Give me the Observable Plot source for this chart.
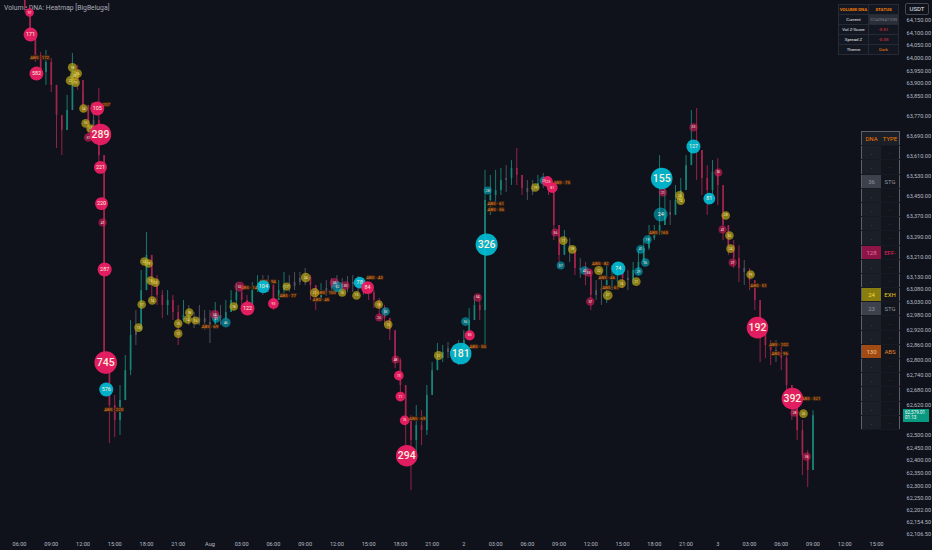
<!DOCTYPE html>
<html>
<head>
<meta charset="utf-8">
<script src="https://cdn.jsdelivr.net/npm/d3@7"></script>
<script src="https://cdn.jsdelivr.net/npm/@observablehq/plot@0.6"></script>
<style>
  html, body { margin: 0; padding: 0; background: #0f121a; }
  body { position: relative; width: 932px; height: 550px; overflow: hidden; font-family: Roboto, "Noto Sans", sans-serif; }
  #title { position: absolute; left: 4px; top: 4px; font-size: 6.8px; color: #a9adb8; white-space: nowrap; }
  #chart { position: absolute; left: 0; top: 0; }
  #unit { position: absolute; box-sizing: border-box; left: 905px; top: 3px; width: 24px; height: 12px; border: 1px solid #434651; border-radius: 2px; background: #0f121a; color: #e6e8ee; font-size: 6px; line-height: 10px; text-align: center; }
  #tag { position: absolute; box-sizing: border-box; left: 903px; width: 26px; height: 13px; background: #089981; color: #fff; font-size: 4.6px; line-height: 5.4px; padding: 1px 0 0 2px; }
  table { position: absolute; border-collapse: collapse; table-layout: fixed; box-sizing: border-box; }
  td { padding: 0; text-align: center; white-space: nowrap; overflow: hidden; }
  #status { left: 838px; top: 4px; width: 61px; height: 49px; border: 1px solid #5d606b; background: #131722; font-size: 4.4px; }
  #status td { border: 1px solid #262a35; color: #e6e8ee; height: 9px; }
  #dna { left: 861px; top: 131px; width: 39px; height: 276px; border: 1px solid #5d606b; font-size: 6px; }
  #dna td { height: 13.2px; border-bottom: 1px solid #171a22; }
</style>
</head>
<body>
<div id="title">Volume DNA: Heatmap [BigBeluga]</div>
<div id="chart"></div>
<div id="unit">USDT</div>
<table id="status"></table>
<table id="dna"></table>
<div id="tag"></div>
<script>
// 30 minute bars, first one at Jul 31 06:30
const firstOpen = 64230;
const closes = [64198,64110,64011,63943,63983,63892,63772,63713,63792,63951,
  63911,63812,63733,63752,63613,62818,62619,62560,62639,62758,
  62898,62917,63076,63216,63116,63057,63017,63037,62989,62957,
  62977,62965,62949,62965,62949,62937,62977,62965,62989,63037,
  63068,63037,63017,63076,63096,63084,63096,63037,63076,63096,
  63092,63108,63124,63128,63096,63045,63068,63084,63096,63104,
  63088,63100,63108,63104,63088,63068,63037,63005,62965,62917,
  62798,62699,62560,62480,62540,62520,62659,62758,62806,62830,
  62846,62830,62838,62878,62957,63017,62997,63434,63454,63474,
  63514,63522,63562,63534,63482,63466,63482,63502,63514,63494,
  63335,63216,63255,63236,63164,63156,63136,63057,63076,63084,
  63116,63136,63156,63124,63116,63156,63188,63243,63283,63307,
  63335,63387,63375,63434,63474,63573,63673,63633,63522,63474,
  63546,63494,63335,63255,63204,63164,63148,63116,63037,62917,
  62858,62838,62830,62806,62699,62619,62520,62420,62361,62579.01];
const highs = [64269,64210,64090,64023,64031,63999,63852,63752,63852,64019,
  63971,63864,63792,63812,63880,63613,62738,62659,62699,62818,
  62957,62997,63156,63307,63216,63136,63076,63076,63057,63017,
  63037,63017,62989,63017,62997,62997,63029,63017,63037,63076,
  63104,63096,63057,63108,63136,63136,63136,63108,63116,63148,
  63136,63148,63148,63164,63136,63096,63104,63116,63124,63136,
  63124,63132,63136,63132,63124,63104,63076,63045,63017,62965,
  62917,62806,62699,62579,62619,62599,62699,62790,62866,62858,
  62870,62858,62878,62917,63005,63053,63057,63554,63534,63554,
  63562,63573,63593,63641,63534,63514,63514,63534,63542,63530,
  63494,63335,63315,63283,63236,63204,63188,63156,63116,63156,
  63176,63176,63188,63176,63156,63188,63236,63283,63335,63335,
  63613,63514,63434,63494,63522,63613,63792,63800,63633,63573,
  63593,63601,63434,63315,63275,63255,63196,63164,63096,63017,
  62898,62878,62878,62858,62818,62699,62619,62560,62440,62599];
const lows = [64182,64070,63983,63919,63892,63864,63641,63613,63713,63872,
  63872,63784,63693,63713,63573,62778,62468,62492,62500,62639,
  62738,62858,62917,63096,63037,63017,62965,62977,62957,62858,
  62949,62937,62925,62937,62917,62866,62949,62937,62957,62989,
  63017,62997,62989,63037,63068,63057,63068,62997,63045,63057,
  63068,63076,63096,63096,63037,62997,63037,63053,63068,63068,
  63057,63068,63068,63068,63057,63037,63005,62977,62937,62878,
  62766,62639,62460,62281,62420,62460,62500,62671,62766,62790,
  62806,62790,62778,62838,62878,62965,62957,62850,63375,63414,
  63454,63466,63494,63494,63454,63434,63454,63474,63482,63454,
  63275,63164,63216,63188,63136,63124,63096,62997,63037,63017,
  63025,63076,63108,63084,63076,63096,63136,63188,63236,63275,
  63295,63335,63335,63395,63434,63514,63585,63514,63454,63375,
  63454,63414,63275,63216,63164,63108,63096,63076,62997,62790,
  62806,62778,62790,62758,62659,62560,62480,62341,62293,62361];

// volume DNA bubbles: bar position, price, value, type, volume z-score
const bubbleBar = [0.9,1.1,2.2,8.6,9.0,9.4,10.0,9.6,11.1,11.5,12.4,12.0,13.7,14.3,14.3,14.5,14.7,15.1,15.3,15.4,
  21.5,22.1,22.6,23.4,23.8,24.7,24.1,29.0,29.0,30.8,31.1,32.3,35.9,36.2,38.0,39.5,40.6,42.1,45.1,47.0,
  49.5,53.1,54.8,58.5,59.1,60.6,60.0,63.3,62.7,64.8,66.9,68.2,68.7,67.0,70.1,70.7,71.0,71.8,72.2,78.2,
  82.4,84.1,83.3,85.6,87.3,87.5,96.5,98.8,99.7,98.1,100.3,101.8,103.5,101.3,105.8,106.6,108.5,106.9,110.2,112.2,
  112.8,115.6,116.0,117.3,116.4,117.7,120.2,120.6,120.4,123.8,124.0,126.4,126.4,129.4,131.1,132.5,133.2,131.9,133.4,133.8,
  137.2,138.5,145.1,145.5,147.2,147.8];
const bubblePrice = [64182,64094,63939,63911,63963,63931,63939,63903,63800,63741,63721,63685,63800,63697,63566,63422,63347,63160,62790,62683,
  62929,63021,63192,63184,63116,63108,63037,62945,62905,62961,62989,62957,62981,62965,62949,63013,63092,63005,63092,63025,
  63092,63128,63068,63108,63092,63096,63068,63108,63057,63088,63021,62993,62941,62969,62802,62738,62655,62560,62420,62818,
  62826,62898,62953,63049,63259,63474,63486,63510,63486,63514,63307,63275,63240,63176,63156,63148,63156,63033,63057,63164,
  63104,63112,63152,63188,63240,63279,63379,63466,63522,63454,63434,63649,63725,63442,63546,63375,63295,63319,63243,63188,
  63140,62929,62647,62591,62587,62416];
const bubbleVal = [97,171,582,22,18,23,16,19,14,16,13,31,105,289,221,220,41,287,745,576,
  13,17,22,19,16,20,14,15,12,14,18,16,34,21,46,18,52,122,104,93,
  17,24,21,33,52,30,16,78,15,84,18,33,16,26,48,73,71,76,294,22,
  181,85,36,54,326,28,19,125,81,21,56,17,18,37,42,55,22,57,27,74,
  16,21,29,36,41,19,24,21,155,20,14,127,33,81,36,28,26,41,24,37,
  19,192,392,28,26,36];
const bubbleType = ["EFF-","EFF-","EFF-","EXH","EXH","EXH","EXH","EXH","EXH","EXH","EXH","EFF-","EFF-","EFF-","EFF-","EFF-","EFF-","EFF-","EFF-","EFF+",
  "EXH","EXH","EXH","EXH","EXH","EXH","EXH","EXH","EXH","EXH","EXH","EXH","EFF-","EFF+","EFF+","EXH","EFF-","EFF-","EFF+","EFF-",
  "EXH","EXH","EXH","EFF-","EFF+","EFF-","EXH","EFF+","EXH","EFF-","EXH","EFF+","EXH","EFF-","EFF-","EFF-","EFF-","EFF-","EFF-","EXH",
  "EFF+","EFF-","EFF+","EFF-","EFF+","EFF+","EXH","EFF-","EFF-","EFF+","EFF-","EXH","EXH","EFF+","EFF+","EFF-","EXH","EFF-","EXH","EFF+",
  "EXH","EXH","EFF+","EFF+","EFF+","EFF+","EFF+","EFF-","EFF+","EXH","EXH","EFF+","EFF-","EFF+","EFF-","EXH","EXH","EFF-","EXH","EFF-",
  "EXH","EFF-","EFF-","EFF-","EXH","EFF-"];
const bubbleZ = [1.6,2.6,2.6,1.7,1.7,1.7,1.6,1.6,1.6,1.6,1.5,1.6,2.6,4.0,2.4,2.4,1.5,2.6,4.2,2.6,
  1.6,1.6,1.6,1.6,1.6,1.6,1.6,1.6,1.6,1.6,1.6,1.5,1.7,1.6,1.8,1.6,1.9,2.6,2.4,2.0,
  1.5,1.8,1.7,1.7,2.0,1.6,1.5,2.2,1.6,2.4,1.6,1.6,1.6,1.5,1.5,1.8,1.8,1.8,4.0,1.7,
  4.0,1.9,1.6,1.6,4.1,1.5,1.6,2.0,2.0,1.5,1.5,1.6,1.6,1.5,1.6,1.6,1.7,1.6,1.8,2.6,
  1.6,1.6,1.6,1.6,1.6,1.6,2.6,1.5,4.0,1.7,1.6,2.6,1.5,2.2,1.5,1.6,1.6,1.5,1.6,1.5,
  1.6,4.0,4.0,1.5,1.6,1.5];

// absorption tags
const absBar = [2.8,14.3,16.8,35.0,42.6,45.9,49.7,57.0,56.0,66.1,74.2,85.6,89.0,89.0,101.5,108.8,110.0,110.7,119.8,138.7,142.5,142.7,148.6];
const absPrice = [64003,63816,62603,62933,63088,63112,63057,63068,63041,63128,62568,62854,63422,63399,63506,63184,63128,63088,63307,63096,62862,62826,62647];
const absVal = [172,207,220,69,143,94,77,150,46,43,69,55,61,56,75,82,46,61,165,51,102,96,321];

const priceTicks = [64150,64100,64050,64000,63950,63900,63850,63770,63690,63610,63530,63450,63370,63290,63210,63130,63080,63030,62980,62920,62860,62800,62740,62680,62620,62500,62450,62400,62350,62300,62250,62202,62154.5,62106.5];
const timeLabels = ["06:00","09:00","12:00","15:00","18:00","21:00","Aug","03:00","06:00","09:00","12:00","15:00","18:00","21:00","2","03:00","06:00","09:00","12:00","15:00","18:00","21:00","3","03:00","06:00","09:00","12:00","15:00"];

const statusHead = ["VOLUME DNA", "STATUS"];
const statusNames = ["Current", "Vol Z-Score", "Spread Z", "Theme"];
const statusValues = ["STAGNATION", "-0.51", "-0.35", "Dark"];

const dnaValues = [null,null,36,null,null,null,null,128,null,null,24,23,null,null,130,null,null,null,null,null];
const dnaTypes = ["","","STG","","","","","EFF-","","","EXH","STG","","","ABS","","","","",""];

const lastPrice = 62579.01;
const lastTimer = "01:13";

const hour = 3600 * 1000;
const t0 = Date.UTC(2024, 6, 31, 6, 30);
const barTime = i => new Date(t0 + i * hour / 2);
const xStart = Date.UTC(2024, 6, 31, 6, 0);
const tickDates = timeLabels.map((_, i) => new Date(xStart + i * 3 * hour));
const tickLabel = new Map(tickDates.map((d, i) => [+d, timeLabels[i]]));

const candles = closes.map((c, i) => ({t: barTime(i), o: i ? closes[i - 1] : firstOpen, c, h: highs[i], l: lows[i]}));
const candleColor = d => Math.abs(d.c - d.o) < 20 ? "#545866" : d.c > d.o ? "#188478" : "#a3244f";

const bubbles = bubbleBar.map((b, i) => ({t: barTime(b), p: bubblePrice[i], v: bubbleVal[i], type: bubbleType[i], z: bubbleZ[i]}));
const bubbleFill = d => {
  if (d.type === "EXH") return "rgba(190,168,24,0.7)";
  const strong = d.v >= 60;
  if (d.type === "EFF+") return strong ? "rgba(0,188,212,0.93)" : "rgba(0,188,212,0.55)";
  return strong ? "rgba(233,30,99,0.96)" : "rgba(233,30,99,0.55)";
};
const absTags = absBar.map((b, i) => ({t: barTime(b), p: absPrice[i], v: absVal[i]}));

function layer(filter, size) {
  return [
    Plot.dot(bubbles, {filter, x: "t", y: "p", r: "z", fill: bubbleFill, sort: {channel: "r"}, clip: true}),
    Plot.text(bubbles, {filter, x: "t", y: "p", text: d => String(d.v), fill: d => d.type === "EXH" ? "#f5ecb8" : "#fdeedd", fontSize: size, fontWeight: size > 8 ? 500 : 400, clip: true})
  ];
}

const chart = Plot.plot({
  width: 932,
  height: 550,
  marginTop: 0,
  marginLeft: 0,
  marginRight: 30,
  marginBottom: 10,
  style: {background: "transparent", color: "#b6bac4", fontFamily: "Roboto, sans-serif", fontSize: "5.6px"},
  x: {type: "utc", domain: [new Date(xStart), tickDates[tickDates.length - 1]], range: [19, 876], ticks: tickDates, tickFormat: d => tickLabel.get(+d), tickSize: 0, tickPadding: 2, label: null},
  y: {axis: "right", domain: [62106.5, 64150], range: [534, 20], ticks: priceTicks, tickFormat: d3.format(",.2f"), tickSize: 0, tickPadding: 4, label: null},
  r: {type: "linear", domain: [0, 4.2], range: [0, 11.3]},
  color: {type: "identity"},
  marks: [
    Plot.ruleX(candles, {x: "t", y1: "l", y2: "h", stroke: candleColor, strokeWidth: 0.9, clip: true}),
    Plot.ruleX(candles, {x: "t", y1: "o", y2: "c", stroke: candleColor, strokeWidth: 1.7, clip: true}),
    Plot.text(absTags, {x: "t", y: "p", text: d => "ABS · " + d.v, fill: "#e8842c", fontSize: 4.4, stroke: "#3b2310", strokeWidth: 2, paintOrder: "stroke", clip: true}),
    ...layer(d => d.z < 2.2, 3.3),
    ...layer(d => d.z >= 2.2 && d.z < 3.5, 5.4),
    ...layer(d => d.z >= 3.5, 10.5)
  ]
});
document.getElementById("chart").append(chart);

// last price tag, placed with the chart's own y scale
const tag = document.getElementById("tag");
tag.style.top = (chart.scale("y").apply(lastPrice) - 6.5) + "px";
tag.innerHTML = d3.format(",.2f")(lastPrice) + "<br>" + lastTimer;

// status table
const status = d3.select("#status");
const head = status.append("tr");
statusHead.forEach(h => head.append("td").text(h).style("color", "#f57c00").style("font-weight", "700"));
statusNames.forEach((n, i) => {
  const row = status.append("tr");
  row.append("td").text(n);
  const v = row.append("td").text(statusValues[i]);
  if (i === 0) v.style("background", "#2a2e39").style("color", "#787b86");
  else if (i === 3) v.style("color", "#f57c00");
  else v.style("color", "#f23645");
});

// DNA column table
const typeStyle = {
  "STG": {bg: "#3d414c", fg: "#8f939e", tfg: "#8f939e"},
  "EFF-": {bg: "#8c1446", fg: "#e07399", tfg: "#e91e63"},
  "EXH": {bg: "#8a7d10", fg: "#f3dc3a", tfg: "#e8c81a"},
  "ABS": {bg: "#a24a14", fg: "#f2c79a", tfg: "#e8842c"}
};
const dna = d3.select("#dna");
const dh = dna.append("tr");
dh.append("td").text("DNA").style("color", "#f57c00").style("background", "#1b1f28").style("width", "19px").style("height", "12px");
dh.append("td").text("TYPE").style("color", "#f57c00").style("background", "#1b1f28");
dnaValues.forEach((v, i) => {
  const row = dna.append("tr");
  const s = typeStyle[dnaTypes[i]];
  row.append("td").text(v == null ? "." : v)
    .style("background", s ? s.bg : "#1b1f28").style("color", s ? s.fg : "#787b86");
  row.append("td").text(dnaTypes[i] || "···")
    .style("background", "#12151c").style("color", s ? s.tfg : "#3a3d47");
});
</script>
</body>
</html>
